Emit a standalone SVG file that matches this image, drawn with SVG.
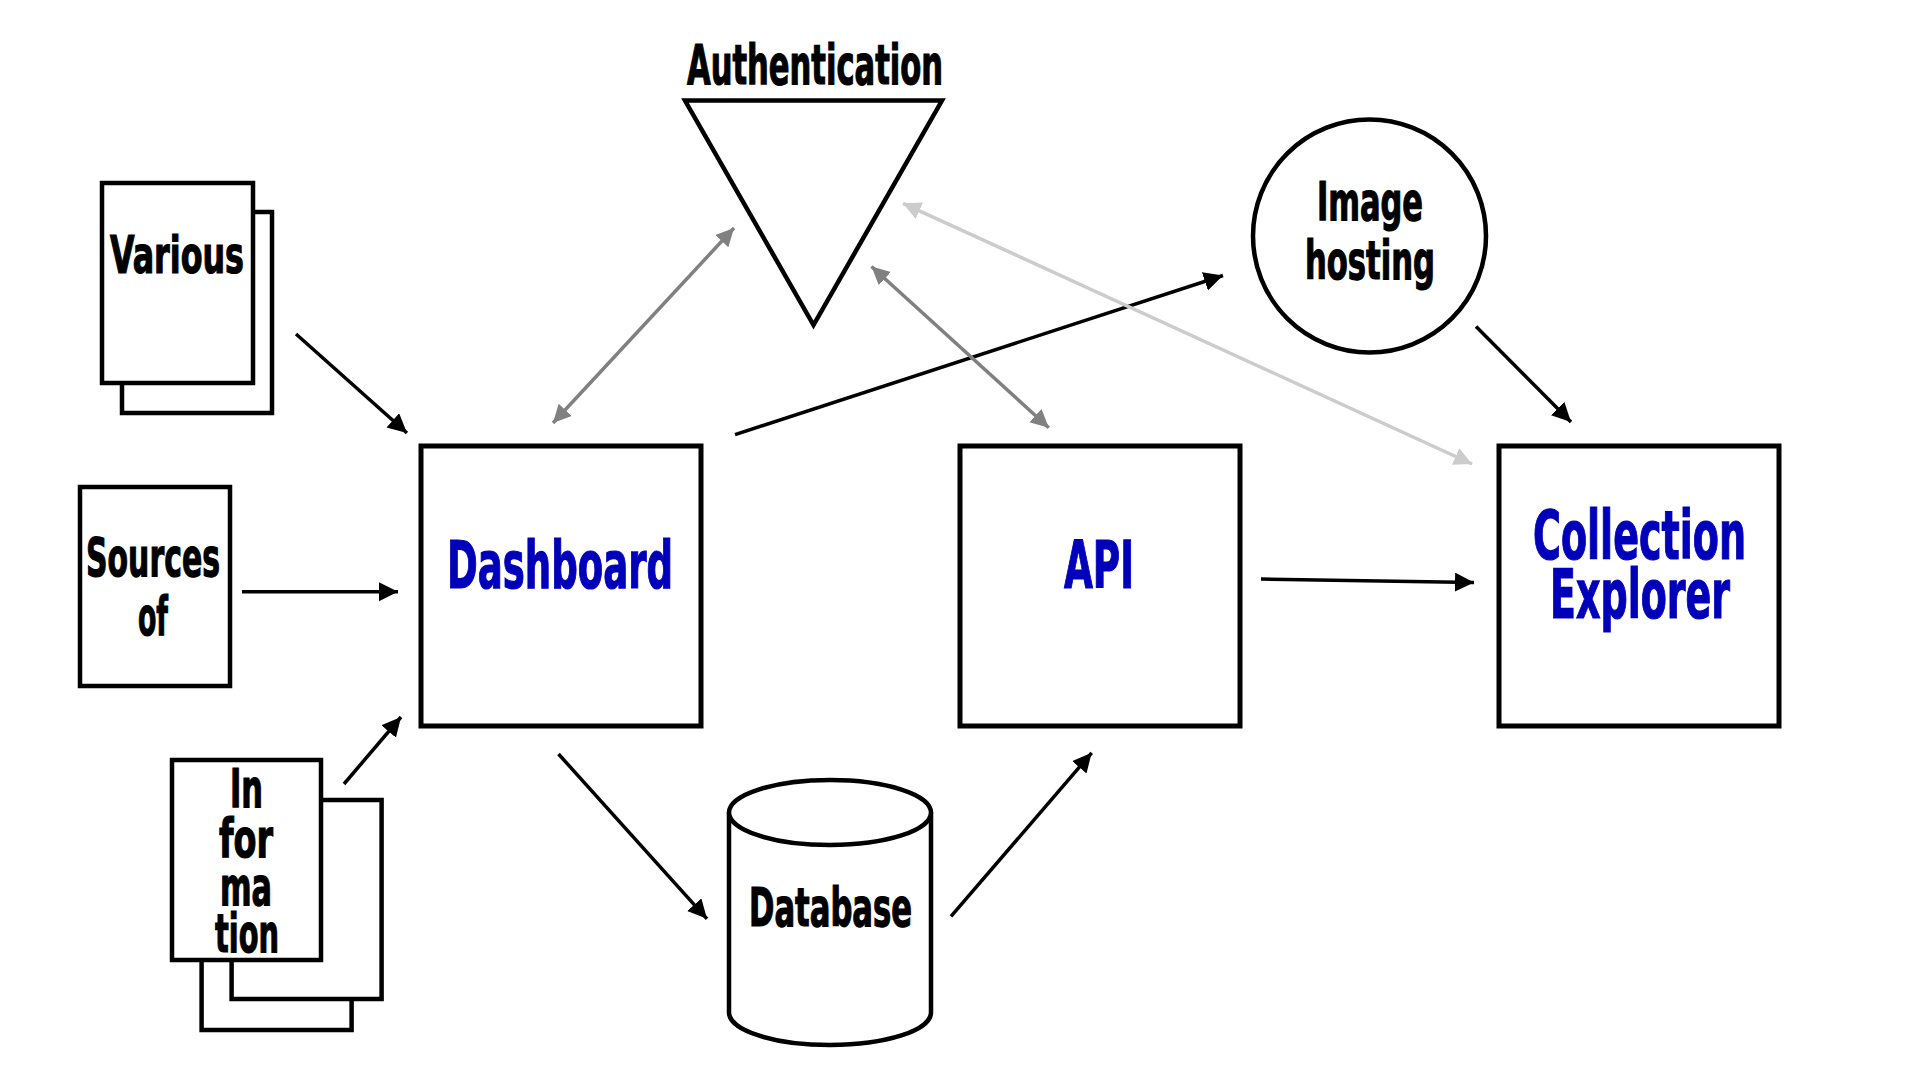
<svg xmlns="http://www.w3.org/2000/svg" width="1920" height="1080" viewBox="0 0 1920 1080">
<style>
.shape{fill:#fff;stroke:#000;stroke-width:4.5}
.box{fill:#fff;stroke:#000;stroke-width:5}
.t{font-family:"DejaVu Sans Condensed","DejaVu Sans","Liberation Sans",sans-serif;font-weight:bold;fill:#000;stroke:#000;stroke-width:1.2}
.b{fill:#0000bb;stroke:#0000bb}
.c{fill:none;stroke-width:3.5}
.k{stroke:#000}
.g{stroke:#808080}
.l{stroke:#cccccc}
</style>
<defs>
<marker id="ak" markerUnits="userSpaceOnUse" markerWidth="20" markerHeight="20" refX="19" refY="9.5" orient="auto-start-reverse"><path d="M0,0 L19,9.5 L0,19 z" fill="#000"/></marker>
<marker id="ag" markerUnits="userSpaceOnUse" markerWidth="20" markerHeight="20" refX="18" refY="9" orient="auto-start-reverse"><path d="M0,0 L18,9 L0,18 z" fill="#808080"/></marker>
<marker id="al" markerUnits="userSpaceOnUse" markerWidth="20" markerHeight="20" refX="18" refY="9" orient="auto-start-reverse"><path d="M0,0 L18,9 L0,18 z" fill="#cccccc"/></marker>
</defs>
<rect width="1920" height="1080" fill="#fff"/>

<g id="authentication">
<polygon class="shape" points="685,100.5 942,100.5 813.5,325"/>
<text class="t" x="687" y="84" font-size="55" textLength="256" lengthAdjust="spacingAndGlyphs">Authentication</text>
</g>

<g id="various">
<rect class="shape" x="122" y="212" width="150" height="201"/>
<rect class="shape" x="102" y="183" width="151" height="200"/>
<text class="t" x="110" y="273" font-size="52" textLength="134" lengthAdjust="spacingAndGlyphs">Various</text>
</g>

<g id="sources">
<rect class="shape" x="80" y="487" width="150" height="199"/>
<text class="t" x="86" y="576" font-size="53" textLength="134" lengthAdjust="spacingAndGlyphs">Sources</text>
<text class="t" x="138" y="635" font-size="53" textLength="30" lengthAdjust="spacingAndGlyphs">of</text>
</g>

<g id="information">
<rect class="shape" x="201.6" y="830" width="150" height="200"/>
<rect class="shape" x="231.6" y="800" width="150" height="199"/>
<rect class="shape" x="172" y="760" width="149" height="200"/>
<text class="t" x="230" y="806.5" font-size="53" textLength="33" lengthAdjust="spacingAndGlyphs">In</text>
<text class="t" x="219" y="856.5" font-size="53" textLength="54" lengthAdjust="spacingAndGlyphs">for</text>
<text class="t" x="220" y="905" font-size="53" textLength="52" lengthAdjust="spacingAndGlyphs">ma</text>
<text class="t" x="215" y="951.5" font-size="53" textLength="64" lengthAdjust="spacingAndGlyphs">tion</text>
</g>

<g id="dashboard">
<rect class="box" x="421" y="446" width="280" height="280"/>
<text class="t b" x="447" y="588" font-size="66" textLength="226" lengthAdjust="spacingAndGlyphs">Dashboard</text>
</g>

<g id="api">
<rect class="box" x="960" y="446" width="280" height="280"/>
<text class="t b" x="1064" y="588" font-size="66" textLength="70" lengthAdjust="spacingAndGlyphs">API</text>
</g>

<g id="collection-explorer">
<rect class="box" x="1499" y="446" width="280" height="280"/>
<text class="t b" x="1533" y="559" font-size="67" textLength="213" lengthAdjust="spacingAndGlyphs">Collection</text>
<text class="t b" x="1550" y="617.5" font-size="67" textLength="180" lengthAdjust="spacingAndGlyphs">Explorer</text>
</g>

<g id="image-hosting">
<circle class="shape" cx="1369.5" cy="236" r="116.5"/>
<text class="t" x="1317" y="220" font-size="53" textLength="106" lengthAdjust="spacingAndGlyphs">Image</text>
<text class="t" x="1305" y="279" font-size="53" textLength="130" lengthAdjust="spacingAndGlyphs">hosting</text>
</g>

<g id="database">
<path class="shape" d="M729,812.5 L729,1012.5 A101,32.5 0 0 0 931,1012.5 L931,812.5"/>
<ellipse class="shape" cx="830" cy="812.5" rx="101" ry="32.5"/>
<text class="t" x="749" y="926" font-size="53" textLength="163" lengthAdjust="spacingAndGlyphs">Database</text>
</g>

<g id="connectors">
<line class="c k" x1="296" y1="334" x2="407" y2="433" marker-end="url(#ak)"/>
<line class="c k" x1="242" y1="591.7" x2="398" y2="591.7" marker-end="url(#ak)"/>
<line class="c k" x1="344" y1="784" x2="401" y2="717" marker-end="url(#ak)"/>
<line class="c g" x1="553" y1="423" x2="734" y2="228" marker-start="url(#ag)" marker-end="url(#ag)"/>
<line class="c k" x1="735" y1="434.6" x2="1223" y2="275.5" marker-end="url(#ak)"/>
<line class="c g" x1="871.5" y1="266.5" x2="1048.8" y2="427.7" marker-start="url(#ag)" marker-end="url(#ag)"/>
<line class="c l" x1="903" y1="203.3" x2="1472" y2="464" marker-start="url(#al)" marker-end="url(#al)"/>
<line class="c k" x1="1476" y1="326.4" x2="1571" y2="422" marker-end="url(#ak)"/>
<line class="c k" x1="1261" y1="579" x2="1474" y2="582.4" marker-end="url(#ak)"/>
<line class="c k" x1="558.5" y1="754" x2="707" y2="918.8" marker-end="url(#ak)"/>
<line class="c k" x1="951" y1="916.4" x2="1091.7" y2="752.8" marker-end="url(#ak)"/>
</g>
</svg>
